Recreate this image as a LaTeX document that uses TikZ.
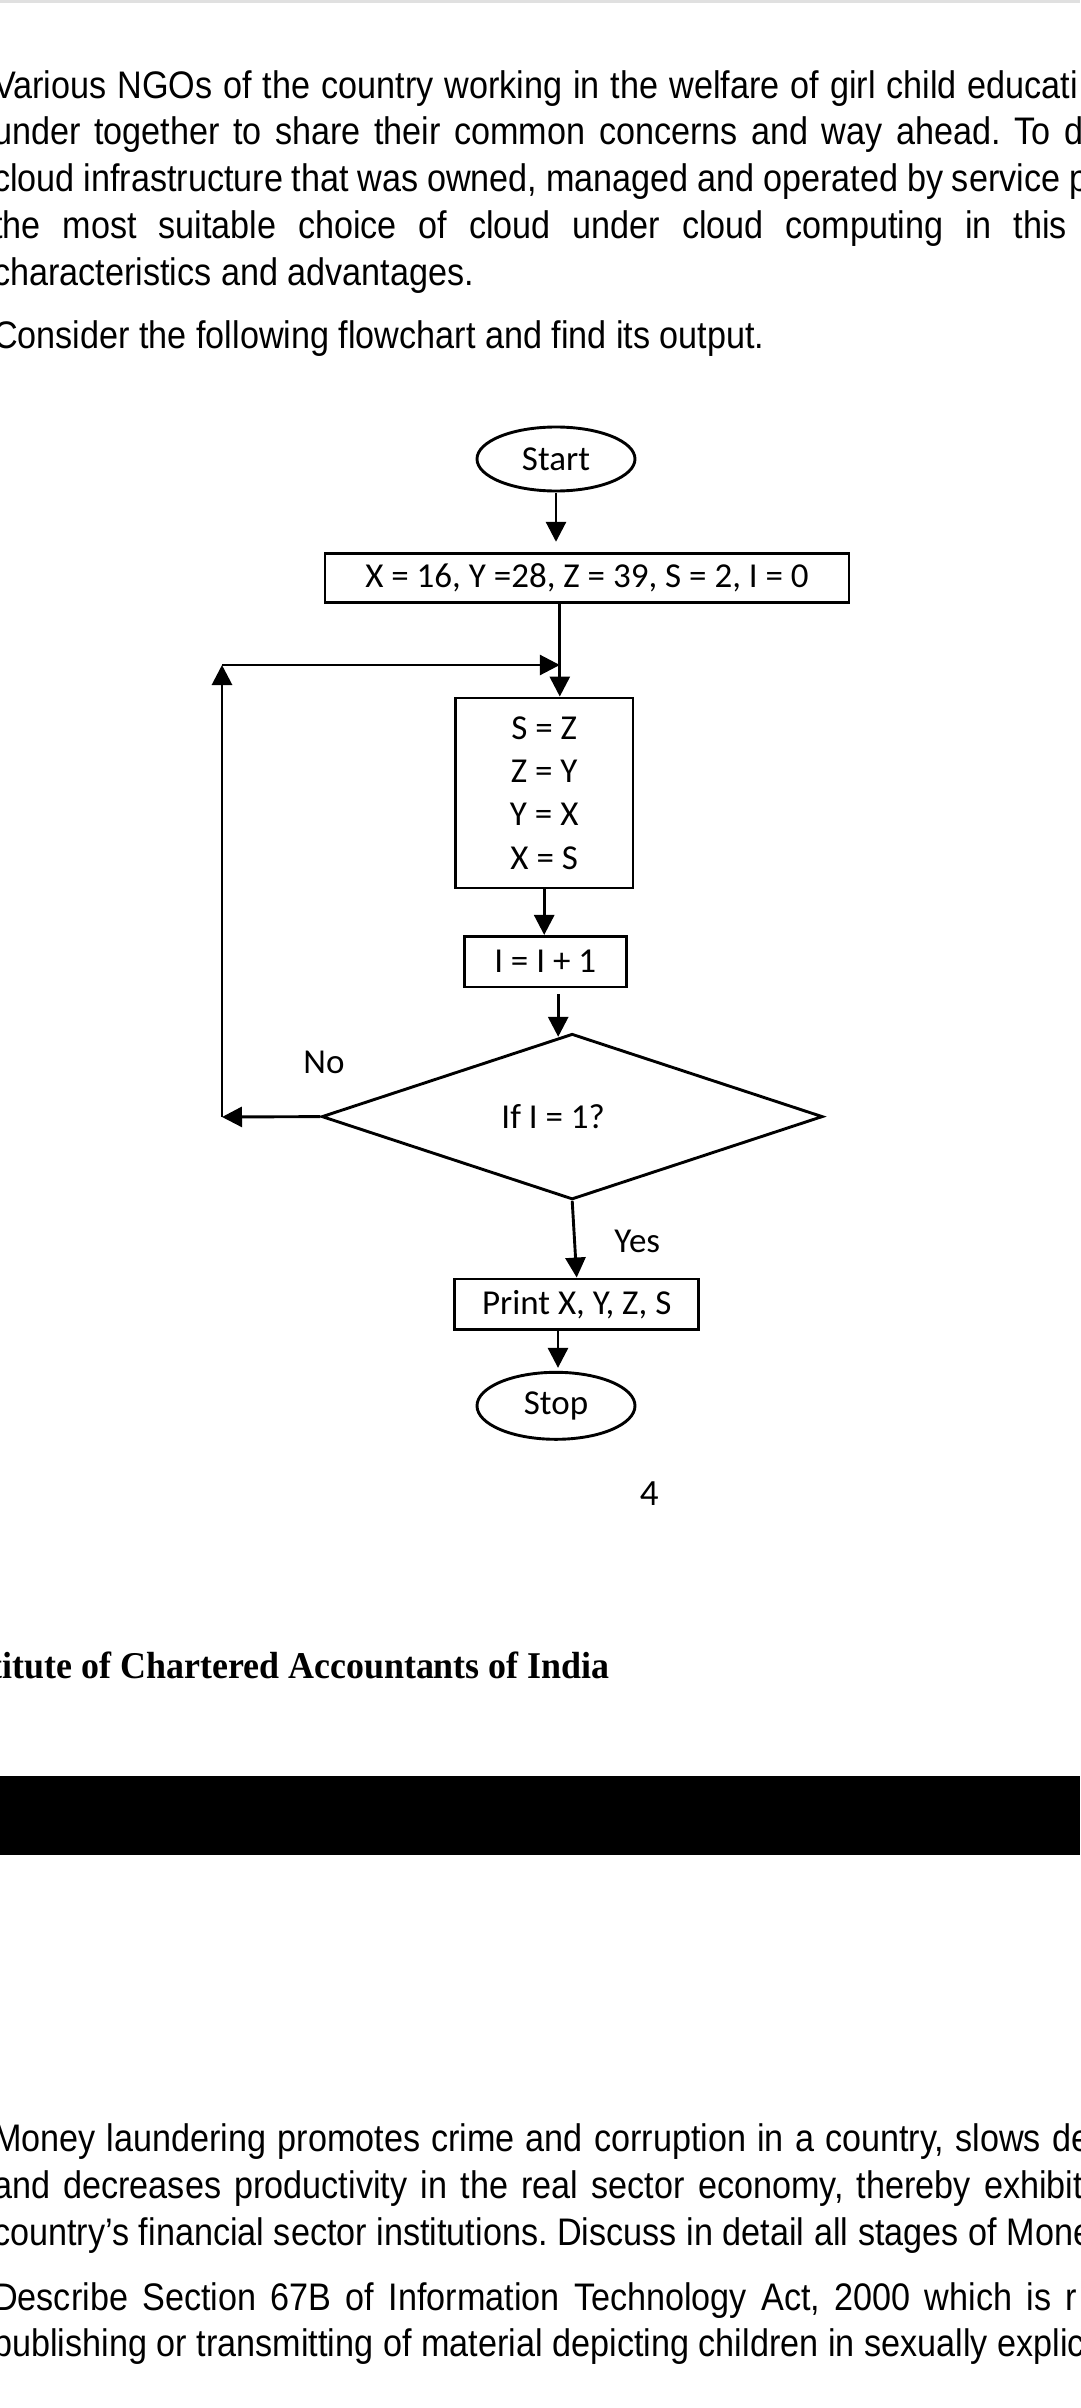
\documentclass[tikz,border=0pt]{standalone}
\usepackage{fontspec}
\setmainfont{Carlito}
\newfontfamily\bodyfont[FakeStretch=0.89]{Liberation Sans}
\newfontfamily\footfont[FakeStretch=0.95]{Liberation Serif}
\usetikzlibrary{shapes.geometric,arrows.meta}
\frenchspacing

\newcommand\chartsize{\fontsize{35}{43.3}\selectfont}
\newcommand\bodysize{\bodyfont\fontsize{38.4}{46.7}\selectfont}
\def\textrow[#1](#2:#3)#4{\node[bodyline] (#1) at (-7,#2) {\makebox[#3pt][s]{#4}};}

\tikzset{
	bodyline/.style={anchor=base west, inner sep=0pt, font=\bodysize},
	footline/.style={anchor=base west, inner sep=0pt, font=\footfont\bfseries\fontsize{37.8}{40}\selectfont},
	chartbox/.style={draw, rectangle, line width=2.9pt, inner sep=0pt, font=\chartsize},
	terminal/.style={draw, ellipse, line width=2.9pt, inner sep=0pt, minimum width=158pt, minimum height=64pt, font=\chartsize},
	decide/.style={draw, diamond, line width=2.9pt, inner sep=0pt, minimum width=501pt, minimum height=157pt, font=\chartsize},
	flowlabel/.style={inner sep=0pt, font=\chartsize},
	flow/.style={line width=2.9pt, -{Triangle[length=20pt,width=20pt]}}
}

\begin{document}
\begin{tikzpicture}[x=1pt, y=-1pt]
			%%%%% PAGE %%%%%
			\useasboundingbox (0,0) rectangle (1080,2408);
			\clip (0,0) rectangle (1080,2408);
			\fill[white] (0,0) rectangle (1080,2408);
			\fill[black!12] (0,0) rectangle (1080,3);
			
			%%%%% QUESTION TEXT %%%%%
			\textrow[parA](98.3:1085){Various NGOs of the country working in the welfare of girl child educati}
			\textrow[parB](145:1090){under together to share their common concerns and way ahead. To d}
			\textrow[parC](191.7:1095){cloud infrastructure that was owned, managed and operated by service p}
			\textrow[parD](238.3:1074){the most suitable choice of cloud under cloud computing in this}
			\node[bodyline] (parE) at (-7,285) {characteristics and advantages.};
			
			\node[bodyline] (ask) at (-7,348.3) {Consider the following flowchart and find its output.};
			
			%%%%% FLOWCHART %%%%%
			\node[terminal] (start) at (556,459) {Start};
			\node[chartbox, minimum width=524pt, minimum height=49.5pt] (init) at (587,578) {X = 16, Y =28, Z = 39, S = 2, I = 0};
			\node[chartbox, minimum width=177.6pt, minimum height=190pt, align=center] (swap) at (544.2,793) {S = Z\\Z = Y\\Y = X\\X = S};
			\node[chartbox, minimum width=162.3pt, minimum height=50.6pt] (incr) at (545.2,961.7) {I = I + 1};
			\node[decide] (check) at (572.2,1116.6) {If I = 1?\hspace*{38pt}};
			\node[chartbox, minimum width=244pt, minimum height=50.6pt] (print) at (576.7,1304.3) {Print X, Y, Z, S};
			\node[terminal, minimum height=67pt] (stop) at (556,1405.8) {Stop};
			
			\node[flowlabel] (nolbl) at (324,1062.7) {No};
			\node[flowlabel] (yeslbl) at (637.3,1241.7) {Yes};
			\node[flowlabel, font=\fontsize{37}{40}\selectfont] (pagenum) at (649.2,1493.3) {4};
			
			\coordinate (join) at (559.8,665);
			\coordinate (loopdown) at (222,1117);
			\coordinate (loopup) at (222,665);
			
			\draw[flow, shorten <=1pt, shorten >=10pt] (start.south) -- (start.south |- init.north);
			\draw[flow] (init.south -| join) -- (swap.north -| join);
			\draw[flow] (swap.south) -- (swap.south |- incr.north);
			\draw[flow, shorten <=6pt, shorten >=-4.5pt] ([xshift=13pt]incr.south) -- ([xshift=13pt]incr.south |- check.north);
			\draw[flow] (check.south) -- (print.north);
			\draw[flow, shorten >=3pt] ([xshift=2pt]stop.north |- print.south) -- ([xshift=2pt]stop.north);
			
			% back to the top when I is not 1
			\draw[flow] (check.west) -- (loopdown);
			\draw[flow] (loopdown) -- (loopup);
			\draw[flow] (loopup) -- (join);
			
			%%%%% FOOTER %%%%%
			\node[footline] (inst) at (-9.3,1678.3) {titute of Chartered Accountants of India};
			\fill (0,1776) rectangle (1080,1855);
			
			%%%%% NEXT QUESTIONS %%%%%
			\textrow[monA](2151.7:1097){Money laundering promotes crime and corruption in a country, slows de}
			\textrow[monB](2198.3:1090){and decreases productivity in the real sector economy, thereby exhibit}
			\textrow[monC](2245:1099){country’s financial sector institutions. Discuss in detail all stages of Mone}
			\textrow[actA](2310:1084){Describe Section 67B of Information Technology Act, 2000 which is r}
			\textrow[actB](2356.7:1092){publishing or transmitting of material depicting children in sexually explic}
\end{tikzpicture}
\end{document}
